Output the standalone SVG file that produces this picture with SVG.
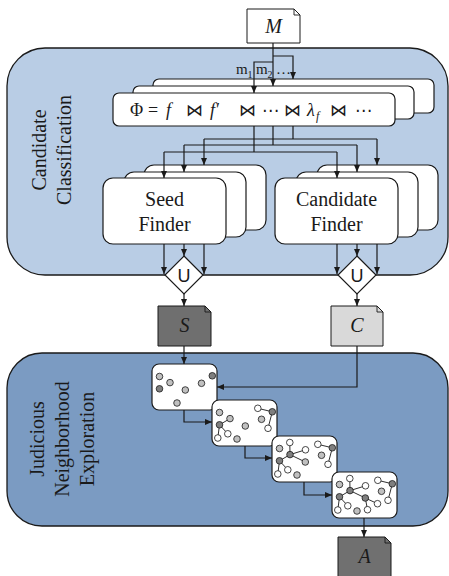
<svg xmlns="http://www.w3.org/2000/svg" width="449" height="576" viewBox="0 0 449 576">
<style>
.panel{stroke:#1a1a1a;stroke-width:1.3}
.box{fill:#fff;stroke:#1a1a1a;stroke-width:1.2}
.doc{stroke:#1a1a1a;stroke-width:1}
.ln{fill:none;stroke:#1a1a1a;stroke-width:1.2}
.ed{fill:none;stroke:#1a1a1a;stroke-width:0.9}
.t{font-family:"Liberation Serif","Times New Roman",serif;fill:#1a1a1a}
.it{font-style:italic}
.op{font-family:"DejaVu Sans",sans-serif;font-size:17px}
.n0{fill:#fff;stroke:#1a1a1a;stroke-width:0.8}
.n1{fill:#c0c0c0;stroke:#1a1a1a;stroke-width:0.8}
.n2{fill:#7f7f7f;stroke:#1a1a1a;stroke-width:0.8}
.u{font-family:"Liberation Sans",Arial,sans-serif;font-size:18px;fill:#1a1a1a}
</style>
<defs>
<marker id="ar" markerUnits="userSpaceOnUse" markerWidth="8" markerHeight="8" refX="7" refY="3" orient="auto"><path d="M0,0 L7,3 L0,6 z" fill="#1a1a1a"/></marker>
<circle id="c" r="3.3"/>
</defs>

<g id="panel-classification">
<rect class="panel" x="7" y="48" width="441" height="227" rx="38" fill="#b9cde5"/>
<text class="t" font-size="20" text-anchor="middle" transform="translate(46,150) rotate(-90)">Candidate</text>
<text class="t" font-size="20" text-anchor="middle" transform="translate(71,150) rotate(-90)">Classification</text>
</g>
<g id="panel-exploration">
<rect class="panel" x="7" y="353" width="441" height="173" rx="35" fill="#7b9bc2"/>
<text class="t" font-size="20" text-anchor="middle" transform="translate(44,439) rotate(-90)">Judicious</text>
<text class="t" font-size="20" text-anchor="middle" transform="translate(69,439) rotate(-90)">Neighborhood</text>
<text class="t" font-size="20" text-anchor="middle" transform="translate(94,439) rotate(-90)">Exploration</text>
</g>

<g id="doc-M">
<path class="doc" fill="#fff" d="M247,9 H294 L300,15 V43 H247 Z"/>
<path class="ed" d="M294,9 V15 H300"/>
<text class="t it" font-size="20" x="273.5" y="33" text-anchor="middle">M</text>
</g>

<g id="phi">
<rect class="box" x="153" y="79" width="281" height="34" rx="6"/>
<rect class="box" x="133" y="86" width="281" height="33" rx="6"/>
<rect class="box" x="113" y="93" width="282" height="33" rx="6"/>
<text class="t" font-size="18" y="116"><tspan x="130">Φ</tspan><tspan x="148">=</tspan><tspan x="166" class="it">f</tspan><tspan x="186" y="115.5" class="op">⋈</tspan><tspan x="210" y="116" class="it">f</tspan><tspan x="216">′</tspan><tspan x="239" y="115.5" class="op">⋈</tspan><tspan x="262" class="op">⋯</tspan><tspan x="284" class="op">⋈</tspan><tspan x="307" y="116" class="it">λ</tspan><tspan x="316" y="120" class="it" font-size="12">f</tspan><tspan x="330" y="115.5" class="op">⋈</tspan><tspan x="355" class="op">⋯</tspan></text>
</g>

<g id="seed-finder">
<rect class="box" x="144" y="165" width="122" height="65" rx="10"/>
<rect class="box" x="124" y="172" width="122" height="65" rx="10"/>
<rect class="box" x="103" y="178" width="123" height="66" rx="10"/>
<text class="t" font-size="20" x="164.5" y="206" text-anchor="middle">Seed</text>
<text class="t" font-size="20" x="164.5" y="231" text-anchor="middle">Finder</text>
</g>

<g id="candidate-finder">
<rect class="box" x="317" y="165" width="121" height="65" rx="10"/>
<rect class="box" x="296" y="172" width="122" height="65" rx="10"/>
<rect class="box" x="275" y="178" width="123" height="66" rx="10"/>
<text class="t" font-size="20" x="336.5" y="206" text-anchor="middle">Candidate</text>
<text class="t" font-size="20" x="336.5" y="231" text-anchor="middle">Finder</text>
</g>

<g id="union-seed">
<path class="box" d="M184,256 L203,275 L184,294 L165,275 Z"/>
<text class="u" x="184" y="281.5" text-anchor="middle">U</text>
</g>
<g id="union-candidate">
<path class="box" d="M357,256 L376,275 L357,294 L338,275 Z"/>
<text class="u" x="357" y="281.5" text-anchor="middle">U</text>
</g>

<g id="doc-S">
<path class="doc" fill="#6f6f6f" d="M158,306 H205 L211,312 V346 H158 Z"/>
<path class="ed" d="M205,306 V312 H211"/>
<text class="t it" font-size="20" x="184.5" y="332" text-anchor="middle">S</text>
</g>
<g id="doc-C">
<path class="doc" fill="#d9d9d9" d="M331,306 H377 L383,312 V346 H331 Z"/>
<path class="ed" d="M377,306 V312 H383"/>
<text class="t it" font-size="20" x="357" y="332" text-anchor="middle">C</text>
</g>
<g id="doc-A">
<path class="doc" fill="#707070" d="M338,537 H385 L391,543 V580 H338 Z"/>
<path class="ed" d="M385,537 V543 H391"/>
<text class="t it" font-size="20" x="364.5" y="563" text-anchor="middle">A</text>
</g>

<g id="graph-1" transform="translate(152,364)">
<rect class="box" width="65" height="46" rx="7"/>
<use href="#c" class="n1" x="7.5" y="12.5"/><use href="#c" class="n2" x="7.5" y="24.8"/><use href="#c" class="n1" x="18" y="18.6"/><use href="#c" class="n1" x="33.3" y="26"/><use href="#c" class="n1" x="49.5" y="19.3"/><use href="#c" class="n2" x="60.3" y="11.8"/><use href="#c" class="n1" x="25" y="39"/>
</g>
<g id="graph-2" transform="translate(212,400)">
<rect class="box" width="65" height="46" rx="7"/>
<path class="ed" d="M7.5,24.8 L18,18.6 M7.5,24.8 L5.8,38 M7.5,24.8 L15.8,33.8 M45.8,8.3 L60.3,11.8 L56,28.3"/>
<use href="#c" class="n1" x="7.5" y="12.5"/><use href="#c" class="n2" x="7.5" y="24.8"/><use href="#c" class="n1" x="18" y="18.6"/><use href="#c" class="n1" x="33.3" y="26"/><use href="#c" class="n1" x="49.5" y="19.3"/><use href="#c" class="n2" x="60.3" y="11.8"/><use href="#c" class="n1" x="25" y="39"/>
<use href="#c" class="n0" x="5.8" y="38"/><use href="#c" class="n0" x="15.8" y="33.8"/><use href="#c" class="n0" x="45.8" y="8.3"/><use href="#c" class="n0" x="56" y="28.3"/>
</g>
<g id="graph-3" transform="translate(272,436)">
<rect class="box" width="65" height="46" rx="7"/>
<path class="ed" d="M7.5,24.8 L18,18.6 M18,18.6 L17.8,6.5 M18,18.6 L33.5,13.8 M18,18.6 L33.3,26 M7.5,24.8 L5.8,38 M7.5,24.8 L15.8,33.8 M45.8,8.3 L60.3,11.8 L56,28.3"/>
<use href="#c" class="n1" x="7.5" y="12.5"/><use href="#c" class="n2" x="7.5" y="24.8"/><use href="#c" class="n2" x="18" y="18.6"/><use href="#c" class="n1" x="33.3" y="26"/><use href="#c" class="n1" x="49.5" y="19.3"/><use href="#c" class="n2" x="60.3" y="11.8"/><use href="#c" class="n1" x="25" y="39"/>
<use href="#c" class="n0" x="5.8" y="38"/><use href="#c" class="n0" x="15.8" y="33.8"/><use href="#c" class="n0" x="45.8" y="8.3"/><use href="#c" class="n0" x="56" y="28.3"/><use href="#c" class="n0" x="17.8" y="6.5"/><use href="#c" class="n0" x="33.5" y="13.8"/>
</g>
<g id="graph-4" transform="translate(332,472)">
<rect class="box" width="65" height="46" rx="7"/>
<path class="ed" d="M7.5,24.8 L18,18.6 M18,18.6 L17.8,6.5 M18,18.6 L33.5,13.8 M18,18.6 L33.3,26 M7.5,24.8 L5.8,38 M7.5,24.8 L15.8,33.8 M33.3,26 L35.5,37.7 M33.3,26 L45.5,31.7 M45.8,8.3 L60.3,11.8 L56,28.3"/>
<use href="#c" class="n1" x="7.5" y="12.5"/><use href="#c" class="n2" x="7.5" y="24.8"/><use href="#c" class="n2" x="18" y="18.6"/><use href="#c" class="n2" x="33.3" y="26"/><use href="#c" class="n1" x="49.5" y="19.3"/><use href="#c" class="n2" x="60.3" y="11.8"/><use href="#c" class="n1" x="25" y="39"/>
<use href="#c" class="n0" x="5.8" y="38"/><use href="#c" class="n0" x="15.8" y="33.8"/><use href="#c" class="n0" x="45.8" y="8.3"/><use href="#c" class="n0" x="56" y="28.3"/><use href="#c" class="n0" x="17.8" y="6.5"/><use href="#c" class="n0" x="33.5" y="13.8"/><use href="#c" class="n0" x="35.5" y="37.7"/><use href="#c" class="n0" x="45.5" y="31.7"/>
</g>

<g id="connectors">
<text class="t" font-size="15"><tspan x="236" y="74">m</tspan><tspan x="247.5" y="78" font-size="10">1</tspan><tspan x="256" y="74">m</tspan><tspan x="267.5" y="78" font-size="10">2</tspan><tspan x="276" y="74">…</tspan></text>
<path class="ln" d="M273,43 V86" marker-end="url(#ar)"/>
<path class="ln" d="M273,56 H293 V79" marker-end="url(#ar)"/>
<path class="ln" d="M273,62 H254 V93" marker-end="url(#ar)"/>
<path class="ln" d="M254,126 V152 M164,152 H337 M273,126 V145 M184,145 H357 M293,126 V139 M204,139 H377"/>
<path class="ln" d="M164,152 V178" marker-end="url(#ar)"/>
<path class="ln" d="M337,152 V178" marker-end="url(#ar)"/>
<path class="ln" d="M184,145 V172" marker-end="url(#ar)"/>
<path class="ln" d="M357,145 V172" marker-end="url(#ar)"/>
<path class="ln" d="M204,139 V165" marker-end="url(#ar)"/>
<path class="ln" d="M377,139 V165" marker-end="url(#ar)"/>
<path class="ln" d="M164,244 V274" marker-end="url(#ar)"/>
<path class="ln" d="M184,244 V256" marker-end="url(#ar)"/>
<path class="ln" d="M204,244 V274" marker-end="url(#ar)"/>
<path class="ln" d="M337,244 V274" marker-end="url(#ar)"/>
<path class="ln" d="M357,244 V256" marker-end="url(#ar)"/>
<path class="ln" d="M377,244 V274" marker-end="url(#ar)"/>
<path class="ln" d="M184,294 V306" marker-end="url(#ar)"/>
<path class="ln" d="M357,294 V306" marker-end="url(#ar)"/>
<path class="ln" d="M184,346 V364" marker-end="url(#ar)"/>
<path class="ln" d="M357,346 V387 H217" marker-end="url(#ar)"/>
<path class="ln" d="M184,410 V422 H212" marker-end="url(#ar)"/>
<path class="ln" d="M245,446 V458 H272" marker-end="url(#ar)"/>
<path class="ln" d="M304,482 V495 H332" marker-end="url(#ar)"/>
<path class="ln" d="M364,518 V537" marker-end="url(#ar)"/>
</g>
</svg>
